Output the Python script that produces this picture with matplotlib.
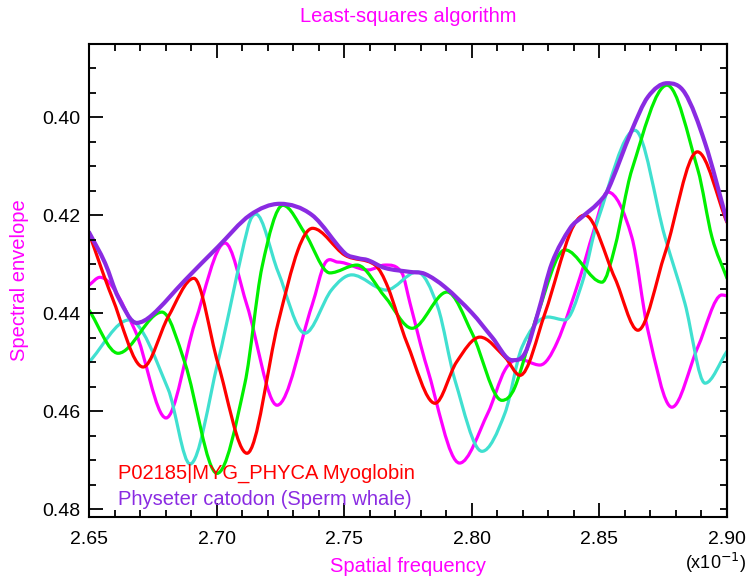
import numpy as np
import matplotlib
matplotlib.use("Agg")
import matplotlib.pyplot as plt
from matplotlib.path import Path
from matplotlib.patches import PathPatch
from matplotlib.ticker import MultipleLocator, FormatStrFormatter

plt.rcParams['font.family'] = ['Liberation Sans', 'DejaVu Sans']

# ---- data (x in units of 1e-1) ----
env_x = [2.650, 2.6563, 2.6614, 2.6686, 2.6747, 2.6876, 2.7005, 2.7131, 2.7248, 2.7374,
         2.7503, 2.7554, 2.7593, 2.7660, 2.7758, 2.7816, 2.7895, 2.8001, 2.8079, 2.8157,
         2.8208, 2.8259, 2.8314, 2.8385, 2.8432, 2.8494, 2.8533, 2.8627, 2.8690, 2.8765,
         2.8835, 2.8914, 2.9000]
env_y = [0.4235, 0.4298, 0.4367, 0.4420, 0.4404, 0.4333, 0.4265, 0.4200, 0.4177, 0.4200,
         0.4278, 0.4288, 0.4292, 0.4308, 0.4316, 0.4320, 0.4347, 0.4400, 0.4449, 0.4496,
         0.4482, 0.4400, 0.4298, 0.4227, 0.4204, 0.4176, 0.4149, 0.4027, 0.3959, 0.3931,
         0.3951, 0.4053, 0.4212]

red_x = [2.650, 2.6590, 2.6712, 2.6810, 2.6911, 2.7005, 2.7119, 2.7241, 2.7319, 2.7376,
         2.7503, 2.7621, 2.7671, 2.7746, 2.7856, 2.7940, 2.8032, 2.8130, 2.8189, 2.8287,
         2.8385, 2.8443, 2.8561, 2.8651, 2.8757, 2.8884, 2.9000]
red_y = [0.4237, 0.4367, 0.4510, 0.4408, 0.4329, 0.4502, 0.4686, 0.4420, 0.4271, 0.4227,
         0.4282, 0.4302, 0.4347, 0.4461, 0.4584, 0.4500, 0.4449, 0.4490, 0.4527, 0.4400,
         0.4237, 0.4200, 0.4329, 0.4435, 0.4278, 0.4071, 0.4215]

green_x = [2.650, 2.6614, 2.6786, 2.6876, 2.7002, 2.7111, 2.7178, 2.7260, 2.7346, 2.7444,
           2.7550, 2.7660, 2.7766, 2.7903, 2.8001, 2.8118, 2.8169, 2.8259, 2.8365, 2.8510,
           2.8561, 2.8627, 2.8765, 2.8886, 2.8941, 2.9000]
green_y = [0.4394, 0.4482, 0.4398, 0.4502, 0.4727, 0.4543, 0.4306, 0.4180, 0.4237, 0.4318,
           0.4302, 0.4367, 0.4431, 0.4357, 0.4441, 0.4578, 0.4551, 0.4400, 0.4271, 0.4337,
           0.4265, 0.4108, 0.3935, 0.4108, 0.4245, 0.4329]

cyan_x = [2.650, 2.6657, 2.6810, 2.6896, 2.7005, 2.7123, 2.7154, 2.7241, 2.7346, 2.7450,
          2.7530, 2.7665, 2.7785, 2.7867, 2.7934, 2.8040, 2.8130, 2.8197, 2.8298, 2.8365,
          2.8432, 2.8494, 2.8639, 2.8757, 2.8835, 2.8914, 2.9000]
cyan_y = [0.4500, 0.4414, 0.4555, 0.4708, 0.4500, 0.4225, 0.4198, 0.4316, 0.4441, 0.4353,
          0.4322, 0.4353, 0.4316, 0.4388, 0.4537, 0.4682, 0.4604, 0.4469, 0.4408, 0.4414,
          0.4339, 0.4210, 0.4027, 0.4245, 0.4380, 0.4543, 0.4478]

mag_x = [2.650, 2.6543, 2.6680, 2.6802, 2.6915, 2.7033, 2.7119, 2.7237, 2.7374, 2.7425,
         2.7476, 2.7593, 2.7660, 2.7726, 2.7758, 2.7824, 2.7952, 2.8063, 2.8130, 2.8185,
         2.8267, 2.8334, 2.8424, 2.8475, 2.8533, 2.8627, 2.8690, 2.8784, 2.8886, 2.8980,
         2.9000]
mag_y = [0.4343, 0.4327, 0.4435, 0.4614, 0.4420, 0.4257, 0.4384, 0.4588, 0.4384, 0.4298,
         0.4296, 0.4312, 0.4302, 0.4318, 0.4380, 0.4510, 0.4706, 0.4604, 0.4516, 0.4494,
         0.4506, 0.4460, 0.4327, 0.4237, 0.4153, 0.4245, 0.4435, 0.4592, 0.4469, 0.4363,
         0.4365]

x_ticks = [2.65, 2.70, 2.75, 2.80, 2.85, 2.90]
y_ticks = [0.40, 0.42, 0.44, 0.46, 0.48]

title = "Least-squares algorithm"
xlabel = "Spatial frequency"
ylabel = "Spectral envelope"
legend_lines = ["P02185|MYG_PHYCA Myoglobin", "Physeter catodon (Sperm whale)"]


def smooth_path(xs, ys):
    xs = np.asarray(xs, float)
    ys = np.asarray(ys, float)
    n = len(xs)
    m = np.zeros(n)
    for i in range(n):
        if i == 0:
            m[i] = (ys[1] - ys[0]) / (xs[1] - xs[0])
        elif i == n - 1:
            m[i] = (ys[-1] - ys[-2]) / (xs[-1] - xs[-2])
        else:
            if (ys[i] - ys[i-1]) * (ys[i+1] - ys[i]) < 0:
                m[i] = 0.0
            else:
                m[i] = (ys[i+1] - ys[i-1]) / (xs[i+1] - xs[i-1])
    verts = [(xs[0], ys[0])]
    codes = [Path.MOVETO]
    for i in range(n - 1):
        h = xs[i+1] - xs[i]
        verts += [(xs[i] + h/3, ys[i] + m[i]*h/3),
                  (xs[i+1] - h/3, ys[i+1] - m[i+1]*h/3),
                  (xs[i+1], ys[i+1])]
        codes += [Path.CURVE4] * 3
    return Path(verts, codes)


fig = plt.figure(figsize=(7.49, 5.76), dpi=100)
ax = fig.add_axes([89/749, 1-517/576, (727-89)/749, (517-44)/576])

series = [(mag_x, mag_y, '#ff00ff', 2.3),
          (cyan_x, cyan_y, '#40e0d0', 2.3),
          (green_x, green_y, '#00f000', 2.3),
          (red_x, red_y, '#ff0000', 2.3),
          (env_x, env_y, '#8a2be2', 3.0)]
for xs, ys, c, lw in series:
    ax.add_patch(PathPatch(smooth_path(xs, ys), fill=False, edgecolor=c, lw=lw,
                           capstyle='round', joinstyle='round', transform=ax.transData))

ax.set_xlim(2.65, 2.90)
ax.set_ylim(0.4816, 0.3851)

ax.set_xticks(x_ticks)
ax.xaxis.set_minor_locator(MultipleLocator(0.01))
ax.set_yticks(y_ticks)
ax.yaxis.set_minor_locator(MultipleLocator(0.005))
ax.xaxis.set_major_formatter(FormatStrFormatter('%.2f'))
ax.yaxis.set_major_formatter(FormatStrFormatter('%.2f'))

ax.tick_params(which='both', direction='in', top=True, right=False, width=1.3, color='black')
ax.tick_params(which='major', length=10, labelsize=14)
ax.tick_params(which='minor', length=5)
ax.tick_params(axis='x', which='major', pad=10)
ax.tick_params(axis='y', which='major', pad=6)

sec = ax.secondary_yaxis('right')
sec.set_yticks(np.arange(0.39, 0.4816, 0.005))
sec.tick_params(direction='in', length=5, width=1.3, labelright=False)
sec.spines['right'].set_linewidth(1.5)

for s in ax.spines.values():
    s.set_linewidth(1.5)

ax.text(0.0455, 0.093, legend_lines[0], transform=ax.transAxes, color='#ff0000',
        fontsize=14.5, ha='left', va='center')
ax.text(0.0455, 0.036, legend_lines[1], transform=ax.transAxes, color='#8a2be2',
        fontsize=14.5, ha='left', va='center')

fig.text(408/749, 1-16/576, title, color='#ff00ff', fontsize=14.5, ha='center', va='center')
fig.text(408/749, 1-566/576, xlabel, color='#ff00ff', fontsize=14.5, ha='center', va='center')
fig.text(20/749, 1-280/576, ylabel, color='#ff00ff', fontsize=14.5, ha='center', va='center',
         rotation=90)
fig.text(746/749, 1-575/576, r'(x10$^{-1}$)', color='black', fontsize=13, ha='right',
         va='bottom')

fig.savefig('out.png', dpi=100)
